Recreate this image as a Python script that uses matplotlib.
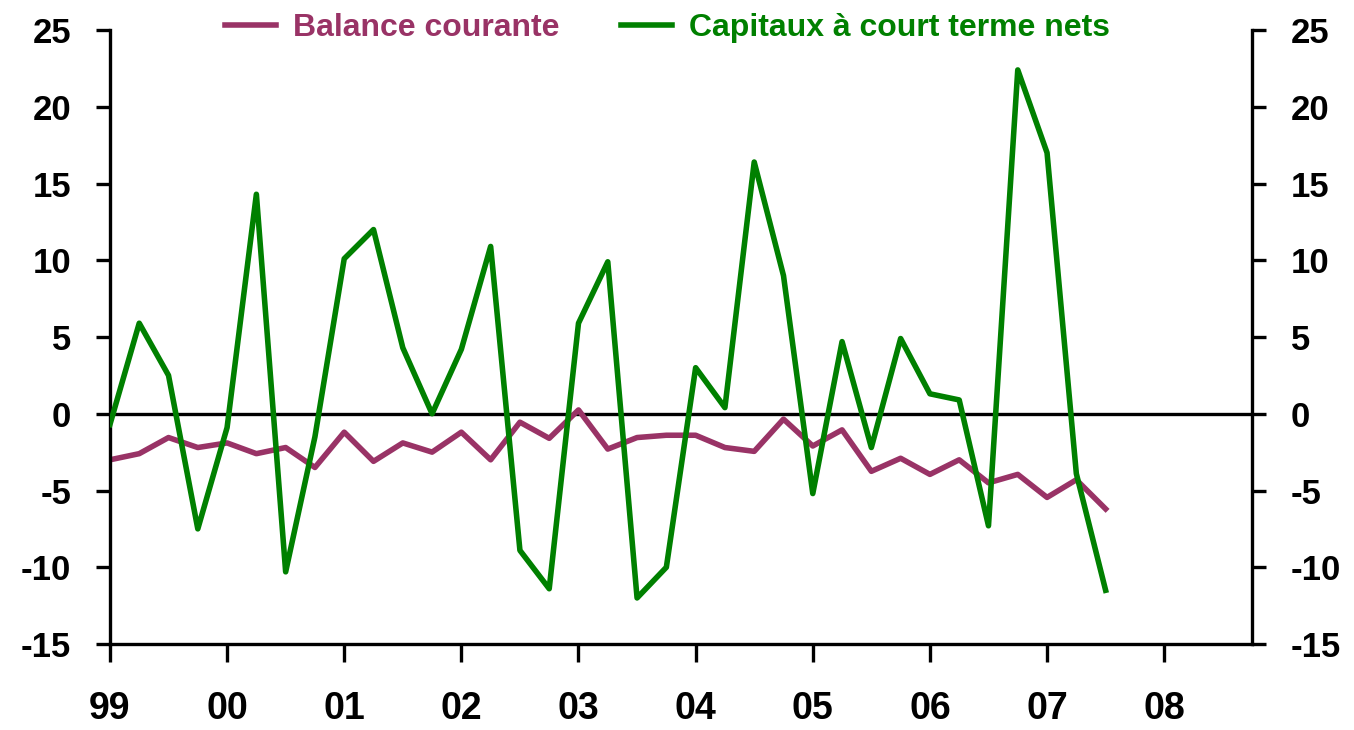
import numpy as np
import matplotlib
matplotlib.use('Agg')
from matplotlib import pyplot as plt

plt.rcParams['font.family'] = ['Liberation Sans', 'DejaVu Sans']
plt.rcParams['font.weight'] = 'bold'
plt.rcParams['axes.unicode_minus'] = False

# quarterly data, 1999Q1 .. 2007Q3
start_year = 1999
balance = [-3.0, -2.6, -1.55, -2.2, -1.9, -2.6, -2.2, -3.5, -1.2, -3.1,
           -1.9, -2.5, -1.2, -3.0, -0.55, -1.6, 0.25, -2.3, -1.55, -1.4,
           -1.4, -2.2, -2.45, -0.35, -2.1, -1.05, -3.75, -2.9, -3.95, -3.0,
           -4.5, -3.95, -5.45, -4.3, -6.2]
capitaux = [-0.7, 5.9, 2.5, -7.5, -0.9, 14.3, -10.3, -1.5, 10.1, 12.0,
            4.3, 0.0, 4.2, 10.9, -8.9, -11.4, 5.9, 9.9, -12.0, -10.0,
            3.0, 0.4, 16.4, 9.0, -5.2, 4.7, -2.2, 4.9, 1.3, 0.9,
            -7.3, 22.4, 17.0, -3.9, -11.5]
years = list(range(1999, 2009))
year_labels = ['99', '00', '01', '02', '03', '04', '05', '06', '07', '08']
y_ticks = [-15, -10, -5, 0, 5, 10, 15, 20, 25]

PURPLE = '#993366'
GREEN = '#008000'

t = start_year + np.arange(len(balance)) / 4.0

fig = plt.figure(figsize=(13.54, 7.3), dpi=100)
ax = fig.add_axes([0.0812, 0.1178, 0.8435, 0.8411])

ax.axhline(0, color='black', lw=2.4, zorder=1)
l1, = ax.plot(t, balance, color=PURPLE, lw=4.0, label='Balance courante', zorder=2)
l2, = ax.plot(t, capitaux, color=GREEN, lw=4.0, label='Capitaux à court terme nets', zorder=3)

ax.set_xlim(1999, 2008.75)
ax.set_ylim(-15, 25)
ax.set_xticks(years)
ax.set_xticklabels(year_labels)
ax.set_yticks(y_ticks)

ax.spines['top'].set_visible(False)
for s in ['left', 'right', 'bottom']:
    ax.spines[s].set_linewidth(2.4)

ax.tick_params(axis='y', which='both', direction='out', length=10, width=2.4,
               labelsize=25, pad=18, left=True, right=True,
               labelleft=True, labelright=True)
ax.tick_params(axis='x', direction='out', length=13, width=2.4,
               labelsize=27, pad=21)
for lab in ax.get_xticklabels() + ax.get_yticklabels():
    lab.set_fontweight('bold')

leg = fig.legend(handles=[l1, l2], loc='center', bbox_to_anchor=(0.493, 0.962),
                 ncol=2, frameon=False, fontsize=23, handlelength=1.6,
                 handletextpad=0.55, columnspacing=1.9)
for txt, col in zip(leg.get_texts(), [PURPLE, GREEN]):
    txt.set_color(col)
    txt.set_fontweight('bold')

fig.savefig('out.png', dpi=100)
